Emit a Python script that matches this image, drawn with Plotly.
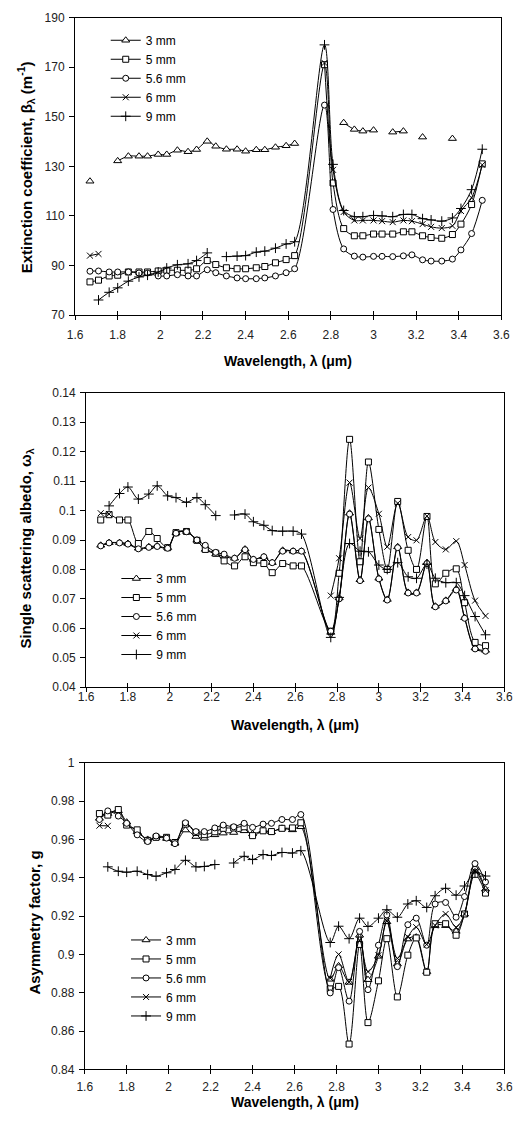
import plotly.graph_objects as go

# ---------------- data ----------------
wavelength = [1.67, 1.71, 1.76, 1.80, 1.85, 1.90, 1.94, 1.99, 2.03, 2.08, 2.13, 2.17,
              2.22, 2.26, 2.31, 2.36, 2.40, 2.45, 2.49, 2.54, 2.59, 2.63,
              2.77, 2.81, 2.86, 2.91, 2.95, 3.00, 3.04, 3.09, 3.14, 3.18, 3.23,
              3.27, 3.32, 3.37, 3.41, 3.46, 3.51]

series_names = ["3 mm", "5 mm", "5.6 mm", "6 mm", "9 mm"]
N = None

# Extinction coefficient (m^-1)
ext_3mm = [124.0, N, N, 132.2, 134.1, 134.1, 134.1, 134.8, 134.8, 136.5, 135.9, 136.8,
           140.1, 138.1, 136.9, 136.9, 136.1, 136.7, 136.7, 137.7, 138.3, 139.2,
           N, N, 147.6, 144.9, 144.2, 144.6, N, 143.8, 144.2, N, 141.8, N, N, 141.2, N, N, N]
ext_5mm = [83.4, 84.1, 85.8, 86.1, 87.4, 87.4, 87.4, 87.8, 88.1, 88.1, 88.1, 88.7,
           92.0, 90.4, 89.1, 88.7, 88.7, 89.1, 89.6, 91.1, 92.4, 94.0,
           171.0, 123.3, 104.9, 102.0, 102.0, 102.7, 102.7, 102.7, 103.6, 103.6, 102.0,
           101.3, 101.0, 102.5, 106.7, 114.6, 131.0]
ext_56mm = [87.7, 87.8, 87.4, 87.4, 87.4, 87.0, 87.0, 85.8, 85.8, 86.3, 85.8, 85.8,
            88.3, 87.1, 85.8, 85.0, 84.7, 84.7, 85.0, 85.8, 87.1, 88.7,
            154.7, 112.6, 96.7, 93.8, 93.4, 93.7, 93.7, 93.6, 93.9, 94.3, 92.3,
            91.8, 91.8, 92.6, 96.3, 102.9, 116.3]
ext_6mm = [94.0, 94.7, N, N, N, N, N, N, N, N, N, N, N, N, N, N, N, N, N, N, N, N,
           171.7, 128.6, 111.6, 108.2, 108.2, 108.2, 107.9, 107.5, 108.2, 107.9, 106.7,
           105.6, 105.1, 106.0, 112.0, 117.3, 130.6]
ext_9mm = [N, 76.1, 79.2, 81.0, 83.7, 85.4, 86.1, 87.4, 89.0, 90.3, 90.7, 92.0,
           95.1, N, 93.6, 93.8, 94.0, 95.4, 95.8, 97.0, 98.7, 99.6,
           179.0, 130.8, 112.2, 109.7, 109.7, 110.2, 110.0, 109.7, 110.6, 110.6, 108.9,
           108.4, 107.9, 109.2, 113.0, 120.6, 136.9]

# Single scattering albedo
alb_3mm = [0.0882, 0.0891, 0.0891, 0.0888, 0.0872, 0.0877, 0.0880, 0.0874, 0.0925, 0.0929, 0.0899, 0.0868,
           0.0852, 0.0845, 0.0838, 0.0869, 0.0834, 0.0843, 0.0823, 0.0865, 0.0862, 0.0862,
           0.0586, 0.0703, 0.0991, 0.0765, 0.0975, 0.0770, 0.0698, 0.0877, 0.0722, 0.0722, 0.0823,
           0.0675, 0.0695, 0.0734, 0.0636, 0.0533, 0.0525]
alb_5mm = [0.0968, 0.0986, 0.0968, 0.0968, 0.0888, 0.0929, 0.0905, 0.0874, 0.0925, 0.0929, 0.0899, 0.0868,
           0.0855, 0.0829, 0.0812, 0.0843, 0.0823, 0.0820, 0.0789, 0.0820, 0.0812, 0.0812,
           0.0590, 0.0787, 0.1242, 0.0826, 0.1165, 0.0936, 0.0800, 0.1031, 0.0865, 0.0800, 0.0980,
           0.0751, 0.0787, 0.0802, 0.0687, 0.0552, 0.0541]
alb_56mm = [0.0880, 0.0890, 0.0890, 0.0886, 0.0870, 0.0875, 0.0878, 0.0872, 0.0923, 0.0928, 0.0900, 0.0882,
            0.0858, 0.0852, 0.0838, 0.0867, 0.0834, 0.0843, 0.0823, 0.0862, 0.0862, 0.0862,
            0.0590, 0.0700, 0.0988, 0.0762, 0.0972, 0.0768, 0.0696, 0.0874, 0.0720, 0.0720, 0.0820,
            0.0673, 0.0693, 0.0730, 0.0634, 0.0530, 0.0522]
alb_6mm = [0.0991, 0.0988, N, N, N, N, N, N, N, N, N, N, N, N, N, N, N, N, N, N, N, N,
           0.0711, 0.0838, 0.1095, 0.0905, 0.1078, 0.0989, 0.0877, 0.1025, 0.0910, 0.0899, 0.0981,
           0.0893, 0.0868, 0.0896, 0.0815, 0.0694, 0.0642]
alb_9mm = [N, 0.1016, 0.1058, 0.1080, 0.1039, 0.1056, 0.1084, 0.1050, 0.1044, 0.1028, 0.1044, 0.1020,
           0.0983, N, 0.0985, 0.0988, 0.0962, 0.0950, 0.0932, 0.0930, 0.0930, 0.0920,
           0.0569, 0.0705, 0.0888, 0.0862, 0.0860, 0.0815, 0.0800, 0.0823, 0.0775, 0.0770, 0.0818,
           0.0770, 0.0755, 0.0755, 0.0711, 0.0640, 0.0578]

# Asymmetry factor
asy_3mm = [0.9710, 0.9735, 0.9750, 0.9690, 0.9640, 0.9600, 0.9610, 0.9605, 0.9580, 0.9649, 0.9615, 0.9606,
           0.9624, 0.9633, 0.9636, 0.9645, 0.9629, 0.9645, 0.9640, 0.9658, 0.9650, 0.9666,
           0.8870, 0.8940, 0.8854, 0.9100, 0.8868, 0.8990, 0.9170, 0.8950, 0.9080, 0.9090, 0.8910,
           0.9150, 0.9150, 0.9120, 0.9210, 0.9450, 0.9340]
asy_5mm = [0.9735, 0.9727, 0.9756, 0.9675, 0.9650, 0.9595, 0.9611, 0.9611, 0.9584, 0.9680, 0.9636, 0.9625,
           0.9640, 0.9658, 0.9660, 0.9666, 0.9620, 0.9645, 0.9641, 0.9658, 0.9660, 0.9687,
           0.8820, 0.8833, 0.8532, 0.9052, 0.8644, 0.8862, 0.9082, 0.8778, 0.8996, 0.9086, 0.8907,
           0.9160, 0.9160, 0.9100, 0.9211, 0.9418, 0.9320]
asy_56mm = [0.9704, 0.9749, 0.9722, 0.9684, 0.9624, 0.9589, 0.9618, 0.9607, 0.9578, 0.9687, 0.9641, 0.9641,
            0.9660, 0.9675, 0.9666, 0.9684, 0.9663, 0.9680, 0.9684, 0.9704, 0.9704, 0.9730,
            0.8799, 0.8931, 0.8756, 0.9120, 0.8816, 0.9048, 0.9206, 0.8936, 0.9155, 0.9189, 0.9048,
            0.9263, 0.9271, 0.9194, 0.9302, 0.9474, 0.9378]
asy_6mm = [0.9672, 0.9671, N, N, N, N, N, N, N, N, N, N, N, N, N, N, N, N, N, N, N, N,
           0.8876, 0.9000, 0.8856, 0.9074, 0.8910, 0.8996, 0.9175, 0.8979, 0.9091, 0.9142, 0.9052,
           0.9151, 0.9211, 0.9142, 0.9211, 0.9435, 0.9335]
asy_9mm = [N, 0.9457, 0.9434, 0.9429, 0.9434, 0.9417, 0.9408, 0.9426, 0.9443, 0.9491, 0.9457, 0.9459,
           0.9469, N, 0.9477, 0.9512, 0.9495, 0.9521, 0.9516, 0.9532, 0.9529, 0.9541,
           0.9062, 0.9147, 0.9082, 0.9189, 0.9146, 0.9189, 0.9233, 0.9194, 0.9263, 0.9280, 0.9245,
           0.9306, 0.9345, 0.9309, 0.9357, 0.9426, 0.9409]

x_ticks = [1.6, 1.8, 2.0, 2.2, 2.4, 2.6, 2.8, 3.0, 3.2, 3.4, 3.6]

# ---------------- styling ----------------
FONT = "Liberation Sans, Arial, sans-serif"
W, H = 524, 1128

markers = [
    dict(symbol="triangle-up", size=7, color="white", line=dict(color="black", width=1)),
    dict(symbol="square", size=6, color="white", line=dict(color="black", width=1)),
    dict(symbol="circle", size=6, color="white", line=dict(color="black", width=1)),
    dict(symbol="x-thin", size=6, color="black", line=dict(color="black", width=1)),
    dict(symbol="cross-thin", size=7, color="black", line=dict(color="black", width=1)),
]

panels = [
    dict(x="x", y="y", legend="legend", data=[ext_3mm, ext_5mm, ext_56mm, ext_6mm, ext_9mm]),
    dict(x="x2", y="y2", legend="legend2", data=[alb_3mm, alb_5mm, alb_56mm, alb_6mm, alb_9mm]),
    dict(x="x3", y="y3", legend="legend3", data=[asy_3mm, asy_5mm, asy_56mm, asy_6mm, asy_9mm]),
]

fig = go.Figure()
for p in panels:
    for name, vals, mk in zip(series_names, p["data"], markers):
        fig.add_trace(go.Scatter(
            x=wavelength, y=vals, name=name, mode="lines+markers",
            line=dict(color="black", width=1, shape="spline", smoothing=0.9),
            marker=mk, connectgaps=False, xaxis=p["x"], yaxis=p["y"],
            legend=p["legend"],
        ))

# empty traces to carry the inside half of the crossing x ticks
for ax, ay in (("x4", "y"), ("x5", "y2"), ("x6", "y3")):
    fig.add_trace(go.Scatter(x=[], y=[], xaxis=ax, yaxis=ay, showlegend=False, hoverinfo="skip"))


def px_x(a, b):
    return [a / W, b / W]


def px_y(top, bottom):
    return [(H - bottom) / H, (H - top) / H]


tickfont = dict(family=FONT, size=12, color="#222222")
common_x = dict(range=[1.6, 3.6], tickvals=x_ticks, showline=True, linecolor="black",
                linewidth=1, mirror=True, ticks="outside", ticklen=4, tickcolor="black",
                tickwidth=1, showgrid=False, zeroline=False, tickfont=tickfont)
common_y = dict(showline=True, linecolor="black", linewidth=1, mirror=True, ticks="outside",
                ticklen=5, tickcolor="black", tickwidth=1, showgrid=False, zeroline=False,
                tickfont=tickfont, ticklabelstandoff=2)
inside_x = dict(range=[1.6, 3.6], tickvals=x_ticks, ticks="inside", ticklen=4,
                tickcolor="black", tickwidth=1, showticklabels=False, showline=False,
                showgrid=False, zeroline=False)

legend_common = dict(font=dict(family=FONT, size=12, color="black"), bgcolor="rgba(0,0,0,0)",
                     xanchor="left", yanchor="top", tracegroupgap=0, itemwidth=30)

title_font_y = dict(family=FONT, size=15, color="black")
title_font_x = dict(family=FONT, size=14, color="black")

fig.update_layout(
    width=W, height=H, margin=dict(l=0, r=0, t=0, b=0),
    paper_bgcolor="white", plot_bgcolor="white", showlegend=True,
    xaxis=dict(domain=px_x(69.3, 510), anchor="y", ticklabelstandoff=4, **common_x),
    yaxis=dict(domain=px_y(10.7, 312), anchor="x", range=[70, 190], tick0=70, dtick=20, **common_y),
    xaxis2=dict(domain=px_x(80.7, 513), anchor="y2", ticklabelstandoff=-6, **common_x),
    yaxis2=dict(domain=px_y(390.7, 688.7), anchor="x2", range=[0.04, 0.14], dtick=0.01, **common_y),
    xaxis3=dict(domain=px_x(79.3, 513), anchor="y3", ticklabelstandoff=2, **common_x),
    yaxis3=dict(domain=px_y(765.3, 1075.7), anchor="x3", range=[0.84, 1.0], dtick=0.02, **common_y),
    xaxis4=dict(overlaying="x", anchor="y", **inside_x),
    xaxis5=dict(overlaying="x2", anchor="y2", **inside_x),
    xaxis6=dict(overlaying="x3", anchor="y3", **inside_x),
    legend=dict(x=101 / W, y=1 - 19 / H, **legend_common),
    legend2=dict(x=112 / W, y=1 - 564 / H, **legend_common),
    legend3=dict(x=122 / W, y=1 - 930 / H, **legend_common),
    annotations=[
        dict(text="<b>Extinction coefficient, β<sub>λ</sub> (m<sup>-1</sup>)</b>", textangle=-90,
             x=19 / W, y=1 - 162 / H, xref="paper", yref="paper", showarrow=False,
             xanchor="center", yanchor="middle", font=title_font_y),
        dict(text="<b>Single scattering albedo, ω<sub>λ</sub></b>", textangle=-90,
             x=19 / W, y=1 - 548 / H, xref="paper", yref="paper", showarrow=False,
             xanchor="center", yanchor="middle", font=title_font_y),
        dict(text="<b>Asymmetry factor, g</b>", textangle=-90,
             x=27 / W, y=1 - 927 / H, xref="paper", yref="paper", showarrow=False,
             xanchor="center", yanchor="middle", font=title_font_y),
        dict(text="<b>Wavelength, λ (μm)</b>", x=289 / W, y=1 - 358 / H, xref="paper",
             yref="paper", showarrow=False, xanchor="center", yanchor="middle", font=title_font_x),
        dict(text="<b>Wavelength, λ (μm)</b>", x=297 / W, y=1 - 727 / H, xref="paper",
             yref="paper", showarrow=False, xanchor="center", yanchor="middle", font=title_font_x),
        dict(text="<b>Wavelength, λ (μm)</b>", x=297 / W, y=1 - 1109 / H, xref="paper",
             yref="paper", showarrow=False, xanchor="center", yanchor="middle", font=title_font_x),
    ],
)

fig.write_html("out.html")
